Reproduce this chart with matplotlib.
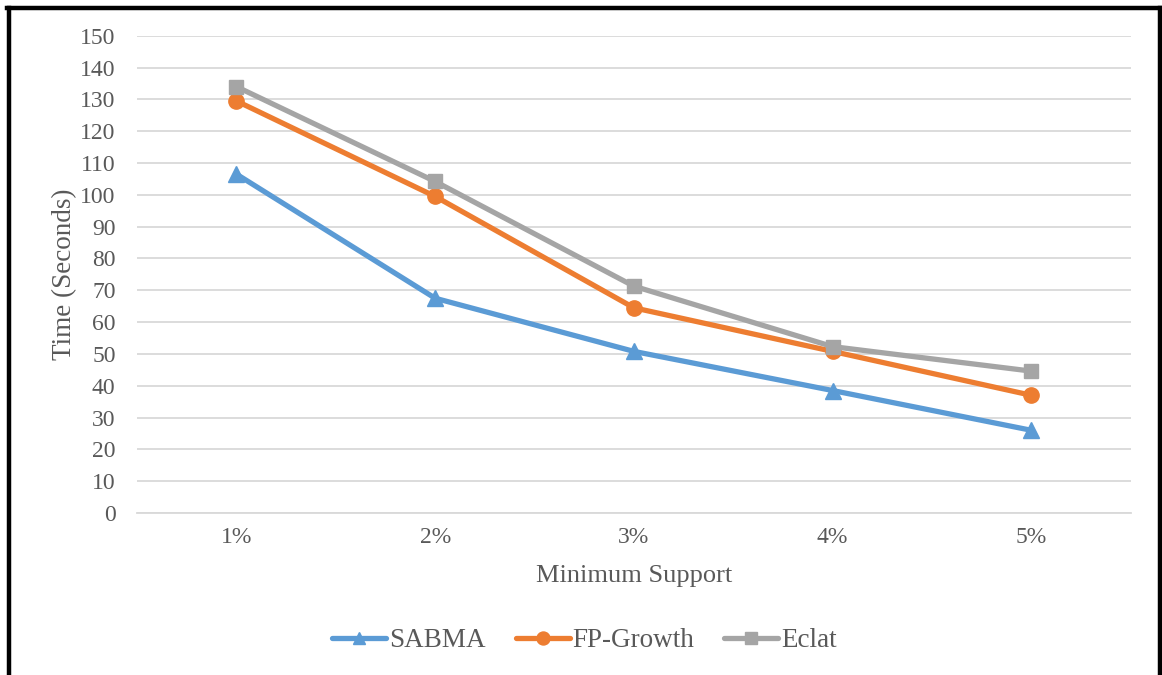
import matplotlib

matplotlib.use("Agg")
import matplotlib.pyplot as plt
from matplotlib.lines import Line2D

# values
supports = ["1%", "2%", "3%", "4%", "5%"]
sabma = [106.5, 67.5, 50.8, 38.5, 26.0]
fp_growth = [129.5, 99.5, 64.5, 50.8, 37.0]
eclat = [134.0, 104.2, 71.3, 52.3, 44.6]

plt.rcParams["font.family"] = ["Liberation Serif", "DejaVu Serif"]
text_grey = "#595959"

fig = plt.figure(figsize=(11.62, 6.75), dpi=100)
ax = fig.add_axes([0.118, 0.24, 0.855, 0.707])

x = range(len(supports))
ax.plot(x, sabma, color="#5B9BD5", linewidth=3.8, marker="^", markersize=11,
        label="SABMA", solid_capstyle="round")
ax.plot(x, fp_growth, color="#ED7D31", linewidth=3.8, marker="o", markersize=11,
        label="FP-Growth", solid_capstyle="round")
ax.plot(x, eclat, color="#A5A5A5", linewidth=3.8, marker="s", markersize=10.5,
        label="Eclat", solid_capstyle="round")

ax.set_xlim(-0.5, len(supports) - 0.5)
ax.set_ylim(0, 150)
ax.set_yticks(range(0, 151, 10))
ax.set_xticks(list(x))
ax.set_xticklabels(supports)
ax.grid(axis="y", color="#D9D9D9", linewidth=1.3)
ax.set_axisbelow(True)
for side in ("top", "right", "left"):
    ax.spines[side].set_visible(False)
ax.spines["bottom"].set_color("#D9D9D9")
ax.spines["bottom"].set_linewidth(1.3)
ax.tick_params(length=0, labelsize=17, colors=text_grey, pad=15.5)
ax.tick_params(axis="x", pad=10)

ax.set_xlabel("Minimum Support", fontsize=19, color=text_grey, labelpad=12)
ax.set_ylabel("Time (Seconds)", fontsize=19.5, color=text_grey, labelpad=2)

leg = fig.legend(loc="center", bbox_to_anchor=(0.503, 0.051), ncol=3, frameon=False,
                 fontsize=19.5, handlelength=2.0, columnspacing=1.1, handletextpad=0.1,
                 markerscale=0.85)
for t in leg.get_texts():
    t.set_color(text_grey)

# black frame round the chart (no bottom edge in the reference)
fw, fh = 1162, 675
fig.add_artist(Line2D([8.5 / fw, 8.5 / fw], [0, 1 - 7.5 / fh], transform=fig.transFigure,
                      color="black", linewidth=3.2))
fig.add_artist(Line2D([7 / fw, 1160 / fw], [1 - 7.5 / fh, 1 - 7.5 / fh],
                      transform=fig.transFigure, color="black", linewidth=3.2))
fig.add_artist(Line2D([1159.5 / fw, 1159.5 / fw], [0, 1 - 7.5 / fh], transform=fig.transFigure,
                      color="black", linewidth=3.2))

fig.savefig("out.png", dpi=100)
